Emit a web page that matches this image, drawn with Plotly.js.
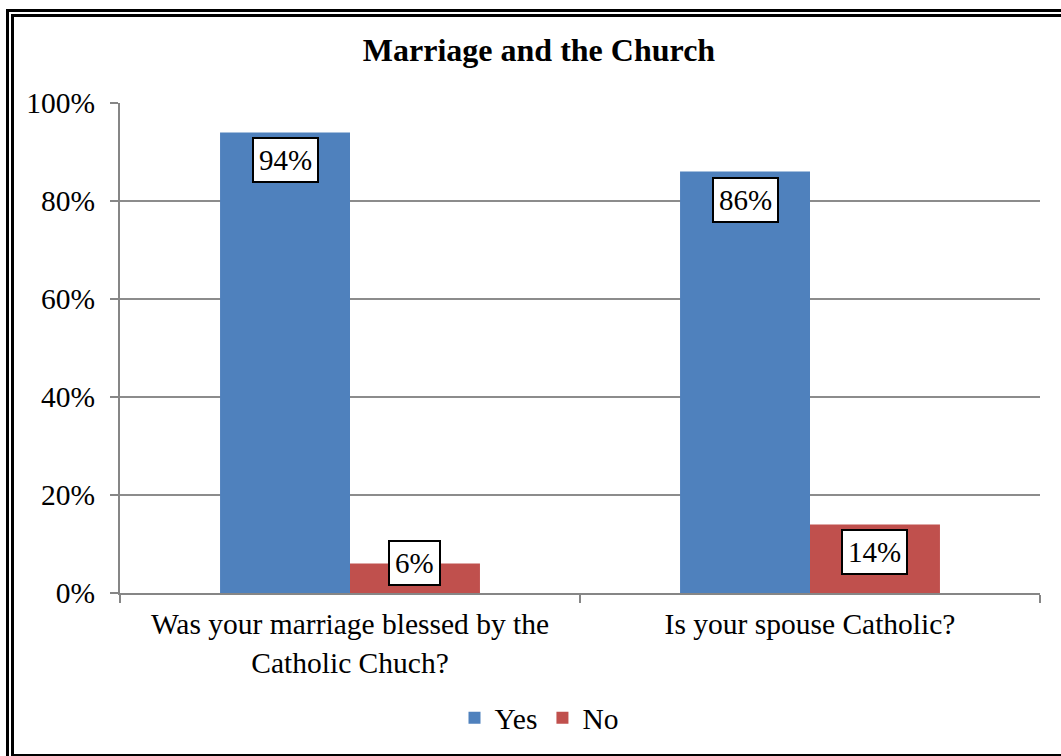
<!DOCTYPE html>
<html><head><meta charset="utf-8">
<script src="https://cdn.plot.ly/plotly-3.0.1.min.js"></script>
<style>
html,body{margin:0;padding:0;background:#fff;overflow:hidden}
#chart{width:1061px;height:756px}
#frame{position:absolute;left:6px;top:9px;width:1100px;height:753px;box-sizing:border-box;border:8px double #000;pointer-events:none}
</style></head><body>
<div id="chart"></div><div id="frame"></div>
<script>
const categories = ["Was your marriage blessed by the<br>Catholic Chuch?", "Is your spouse Catholic?"];
const yesValues = [0.94, 0.86];
const noValues = [0.06, 0.14];
const seriesNames = ["Yes", "No"];
const seriesColors = ["#4F81BD", "#C0504D"];
const yTickVals = [0, 0.2, 0.4, 0.6, 0.8, 1.0];
const yTickText = ["0%", "20%", "40%", "60%", "80%", "100%"];

const W = 1061, H = 756;
const margin = {l: 120, r: 21, t: 103, b: 163};
const bargap = 0.435;
const plotW = W - margin.l - margin.r;
const plotH = H - margin.t - margin.b;
const catW = plotW / categories.length;
const barW = catW * (1 - bargap) / 2;
const pxPerUnit = plotH / 1.0;
const fontFam = "Liberation Serif, Times New Roman, serif";
const fs = 29.5;

const series = [yesValues, noValues];
const traces = series.map((vals, i) => ({
  type: "bar", name: seriesNames[i], x: categories, y: vals,
  marker: {color: seriesColors[i]}, hoverinfo: "skip"
}));

const annotations = [];
series.forEach((vals, i) => {
  vals.forEach((v, j) => {
    const hPx = v * pxPerUnit;
    const down = Math.min(28, hPx - 30);
    annotations.push({
      x: categories[j], y: v, xref: "x", yref: "y",
      xshift: (i === 0 ? -1 : 1) * barW / 2, yshift: -down,
      yanchor: "middle", xanchor: "center",
      text: Math.round(v * 100) + "%", showarrow: false,
      font: {family: fontFam, size: 29, color: "#000"},
      bgcolor: "#fff", bordercolor: "#000", borderwidth: 2, borderpad: 5
    });
  });
});

const layout = {
  width: W, height: H, margin: margin,
  paper_bgcolor: "#fff", plot_bgcolor: "#fff",
  font: {family: fontFam, size: fs, color: "#000"},
  title: {text: "Marriage and the Church", font: {family: fontFam, size: 32, weight: "bold", color: "#000"},
    x: 539 / W, xref: "container", xanchor: "center", y: 1 - 50 / H, yref: "container", yanchor: "middle"},
  barmode: "group", bargap: bargap, bargroupgap: 0,
  xaxis: {type: "category", tickson: "boundaries", ticks: "outside", ticklen: 8, tickcolor: "#868686", tickwidth: 2,
    showline: true, linecolor: "#868686", linewidth: 2, showgrid: false, ticklabelstandoff: 4,
    tickfont: {family: fontFam, size: fs, color: "#000"}, automargin: false, fixedrange: true},
  yaxis: {range: [0, 1], tickvals: yTickVals, ticktext: yTickText, ticks: "outside", ticklen: 8,
    tickcolor: "#868686", tickwidth: 2, showline: true, linecolor: "#868686", linewidth: 2,
    showgrid: true, gridcolor: "#8c8c8c", gridwidth: 1.5, zeroline: false, ticklabelstandoff: 9,
    tickfont: {family: fontFam, size: fs, color: "#000"}, automargin: false, fixedrange: true},
  legend: {orientation: "h", x: 539 / W, xref: "container", xanchor: "center", y: 1 - 718 / H, yref: "container", yanchor: "middle",
    font: {family: fontFam, size: fs, color: "#000"}, itemwidth: 30, traceorder: "normal"},
  annotations: annotations,
  showlegend: true
};

Plotly.newPlot("chart", traces, layout, {displayModeBar: false, staticPlot: true});
</script>
</body></html>
